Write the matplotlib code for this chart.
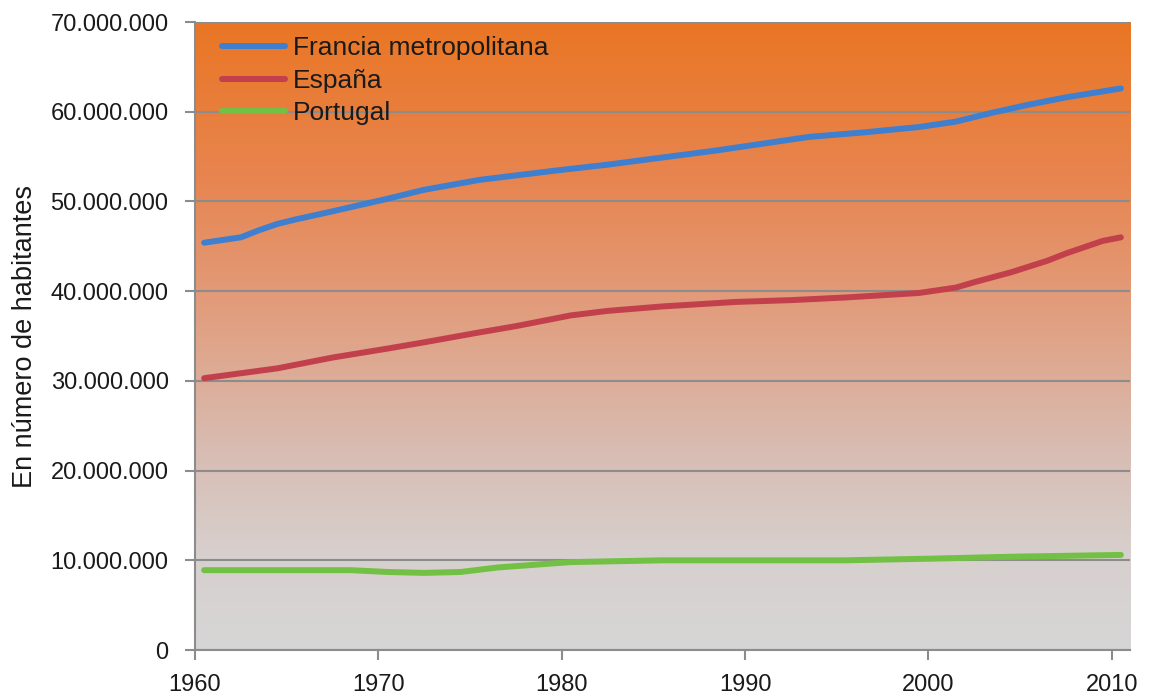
import numpy as np
import matplotlib
matplotlib.use("Agg")
import matplotlib.pyplot as plt
from matplotlib.colors import LinearSegmentedColormap
from matplotlib.ticker import FuncFormatter

# ---- data (millions of inhabitants) ----
francia_years = [1960, 1962, 1963, 1964, 1965, 1967, 1970, 1972, 1975, 1977, 1979, 1982, 1985, 1988, 1990, 1993, 1996, 1999, 2001, 2003, 2005, 2007, 2010]
francia_vals = [45.4, 46.0, 46.8, 47.5, 48.0, 48.9, 50.3, 51.3, 52.4, 52.9, 53.4, 54.1, 54.9, 55.7, 56.3, 57.2, 57.7, 58.3, 58.9, 59.9, 60.8, 61.6, 62.6]

espana_years = [1960, 1964, 1967, 1970, 1972, 1975, 1977, 1978, 1979, 1980, 1982, 1985, 1989, 1992, 1995, 1999, 2001, 2002, 2004, 2006, 2007, 2009, 2010]
espana_vals = [30.3, 31.4, 32.6, 33.6, 34.3, 35.4, 36.1, 36.5, 36.9, 37.3, 37.8, 38.3, 38.8, 39.0, 39.3, 39.8, 40.4, 41.0, 42.1, 43.4, 44.2, 45.6, 46.0]

portugal_years = [1960, 1965, 1968, 1970, 1972, 1974, 1976, 1978, 1980, 1985, 1990, 1995, 2000, 2004, 2010]
portugal_vals = [8.9, 8.9, 8.9, 8.7, 8.6, 8.7, 9.2, 9.5, 9.8, 10.0, 10.0, 10.0, 10.2, 10.4, 10.6]

series_names = ["Francia metropolitana", "España", "Portugal"]
series_colors = ["#3F7FCF", "#C2404C", "#72C044"]

xticks = [1960, 1970, 1980, 1990, 2000, 2010]
yticks = [0, 10, 20, 30, 40, 50, 60, 70]

plt.rcParams['font.family'] = ['Liberation Sans', 'DejaVu Sans']

fig = plt.figure(figsize=(11.51, 6.97), dpi=100)
ax = fig.add_axes([0.1694, 0.0674, 0.9818 - 0.1694, 0.9684 - 0.0674])

# gradient background
stops = [(0.0, (214/255, 214/255, 214/255)),
         (0.15, (215/255, 208/255, 206/255)),
         (0.32, (216/255, 188/255, 178/255)),
         (0.56, (226/255, 155/255, 122/255)),
         (0.75, (231/255, 133/255, 80/255)),
         (1.0, (234/255, 118/255, 36/255))]
cmap = LinearSegmentedColormap.from_list("bg", stops)
grad = np.linspace(0, 1, 256).reshape(-1, 1)
ax.imshow(grad, extent=[0, 1, 0, 1], transform=ax.transAxes, aspect='auto',
          cmap=cmap, origin='lower', zorder=0, interpolation='bicubic')

offset = 0.5
for yrs, vals, name, col in zip([francia_years, espana_years, portugal_years],
                                [francia_vals, espana_vals, portugal_vals],
                                series_names, series_colors):
    ax.plot(np.array(yrs) + offset, np.array(vals) * 1e6, color=col, lw=4.3,
            solid_capstyle='round', solid_joinstyle='round', label=name, zorder=3)

ax.set_xlim(1960, 2011)
ax.set_ylim(0, 70e6)
ax.set_xticks(xticks)
ax.set_yticks([v * 1e6 for v in yticks])
ax.yaxis.set_major_formatter(FuncFormatter(lambda v, p: f"{int(round(v)):,}".replace(",", ".")))

ax.set_axisbelow(True)
ax.grid(axis='y', color='#8C8C8C', lw=1.5)
ax.grid(axis='x', visible=False)

for s in ['top', 'right']:
    ax.spines[s].set_visible(False)
for s in ['left', 'bottom']:
    ax.spines[s].set_color('#8C8C8C')
    ax.spines[s].set_linewidth(1.5)

ax.tick_params(axis='y', length=7, width=1.5, color='#8C8C8C', pad=12,
               labelsize=17, labelcolor='#1a1a1a')
ax.tick_params(axis='x', length=7, width=1.5, color='#8C8C8C', pad=10,
               labelsize=17, labelcolor='#1a1a1a')

ax.set_ylabel("En número de habitantes", fontsize=19.5, color='#1a1a1a', labelpad=9)

leg = ax.legend(loc='upper left', frameon=False, fontsize=19, handlelength=2.4,
                handletextpad=0.3, labelspacing=0.32, borderaxespad=0.0,
                borderpad=0.0, bbox_to_anchor=(0.029, 0.977))
for t in leg.get_texts():
    t.set_color('#1a1a1a')

fig.savefig("out.png", dpi=100)
